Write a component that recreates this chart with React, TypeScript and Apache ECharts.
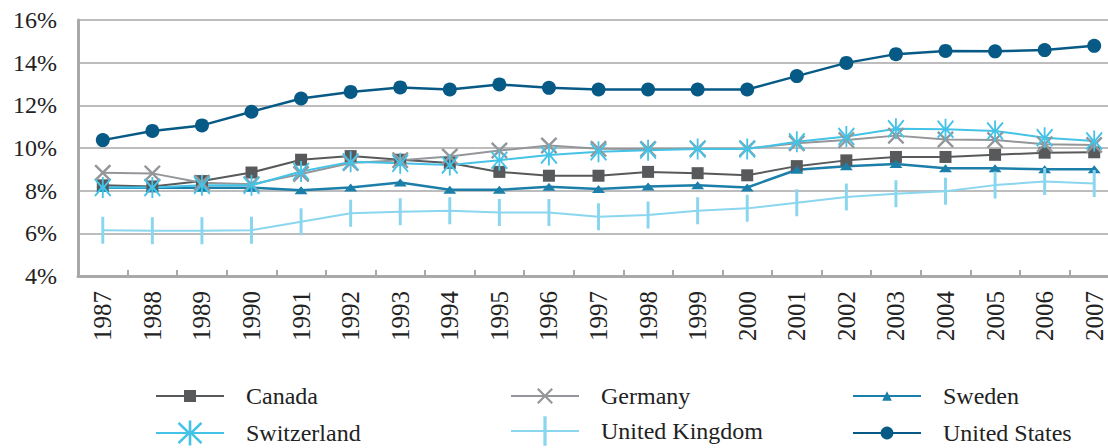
import React, { useEffect, useRef } from "react";
import * as echarts from "echarts";

const years = ["1987","1988","1989","1990","1991","1992","1993","1994","1995","1996","1997","1998","1999","2000","2001","2002","2003","2004","2005","2006","2007"];

const canada = [8.25, 8.2, 8.45, 8.85, 9.45, 9.62, 9.45, 9.3, 8.88, 8.7, 8.7, 8.88, 8.82, 8.72, 9.15, 9.42, 9.58, 9.58, 9.68, 9.78, 9.8];
const germany = [8.84, 8.81, 8.37, 8.3, 8.78, 9.3, 9.43, 9.6, 9.88, 10.12, 9.96, 9.95, 9.97, 9.98, 10.22, 10.37, 10.58, 10.4, 10.37, 10.18, 10.14];
const sweden = [8.14, 8.14, 8.14, 8.14, 8.02, 8.15, 8.38, 8.04, 8.04, 8.18, 8.08, 8.2, 8.25, 8.15, 8.98, 9.15, 9.25, 9.05, 9.05, 9.0, 9.0];
const switzerland = [8.15, 8.15, 8.25, 8.25, 8.9, 9.35, 9.28, 9.2, 9.43, 9.67, 9.82, 9.9, 9.95, 9.95, 10.29, 10.54, 10.9, 10.88, 10.8, 10.48, 10.33];
const unitedKingdom = [6.15, 6.12, 6.12, 6.15, 6.54, 6.94, 7.01, 7.06, 6.98, 6.98, 6.78, 6.86, 7.06, 7.17, 7.43, 7.7, 7.85, 7.97, 8.26, 8.43, 8.34];
const unitedStates = [10.37, 10.8, 11.06, 11.7, 12.32, 12.63, 12.84, 12.74, 12.98, 12.82, 12.74, 12.74, 12.74, 12.74, 13.37, 13.99, 14.4, 14.55, 14.53, 14.59, 14.79];

const yTicks = { min: 4, max: 16, interval: 2 };

const X_PATH = "path://M0,1 L1,0 L5,4 L9,0 L10,1 L6,5 L10,9 L9,10 L5,6 L1,10 L0,9 L4,5 Z";
const AST_PATH = "path://M4.5,0 L5.5,0 L5.5,4.2 L9,0.6 L9.7,1.3 L6.1,5 L9.7,8.7 L9,9.4 L5.5,5.8 L5.5,10 L4.5,10 L4.5,5.8 L1,9.4 L0.3,8.7 L3.9,5 L0.3,1.3 L1,0.6 L4.5,4.2 Z";
// narrow vertical bar centred in a 10x10 box (tiny specks at the sides keep the box square)
const BAR_PATH = "path://M4.45,0 L5.55,0 L5.55,10 L4.45,10 Z M0,5 L0.01,5 L0.01,5.01 Z M10,5 L9.99,5 L9.99,5.01 Z";

const FONT = "'Liberation Serif', 'Times New Roman', serif";

type SeriesDef = {
  name: string;
  data: number[];
  color: string;
  symbol: string;
  symbolSize: number | number[];
  width: number;
  legendLeft: number;
  legendTop: number;
  legendItemHeight: number;
};

const seriesDefs: SeriesDef[] = [
  { name: "Canada", data: canada, color: "#58595b", symbol: "rect", symbolSize: 12, width: 2, legendLeft: 155, legendTop: 376, legendItemHeight: 15 },
  { name: "Germany", data: germany, color: "#949699", symbol: X_PATH, symbolSize: 17, width: 2, legendLeft: 510, legendTop: 376, legendItemHeight: 20 },
  { name: "Sweden", data: sweden, color: "#1b7fa9", symbol: "triangle", symbolSize: [13, 8], width: 2.5, legendLeft: 852, legendTop: 376, legendItemHeight: 12 },
  { name: "Switzerland", data: switzerland, color: "#45c3e7", symbol: AST_PATH, symbolSize: [17, 21], width: 2, legendLeft: 155, legendTop: 413, legendItemHeight: 31 },
  { name: "United Kingdom", data: unitedKingdom, color: "#8ad6ef", symbol: BAR_PATH, symbolSize: 27, width: 2, legendLeft: 510, legendTop: 411, legendItemHeight: 37 },
  { name: "United States", data: unitedStates, color: "#075a86", symbol: "circle", symbolSize: 14, width: 2.5, legendLeft: 852, legendTop: 413, legendItemHeight: 16 },
];

export default function App() {
  const ref = useRef<HTMLDivElement>(null);

  useEffect(() => {
    if (!ref.current) return;
    const chart = echarts.init(ref.current, undefined, { renderer: "svg" });

    const option: any = {
      animation: false,
      backgroundColor: "#ffffff",
      grid: { left: 78, top: 20, right: 6, bottom: 172, containLabel: false, outerBoundsMode: "none" },
      legend: seriesDefs.map((s) => ({
        data: [s.name],
        left: s.legendLeft,
        top: s.legendTop,
        padding: 0,
        itemWidth: 68,
        itemHeight: s.legendItemHeight,
        selectedMode: false,
        textStyle: {
          fontFamily: FONT,
          fontSize: 24,
          color: "#222222",
          lineHeight: 26,
          padding: [14, 0, 0, 17],
        },
      })),
      xAxis: {
        type: "category",
        data: years,
        boundaryGap: true,
        axisLine: { show: true, lineStyle: { color: "#a9a9a9", width: 3 } },
        axisTick: { show: true, inside: true, length: 6, alignWithLabel: false, lineStyle: { color: "#a9a9a9", width: 2 } },
        axisLabel: {
          rotate: 90,
          margin: 15,
          interval: 0,
          fontFamily: FONT,
          fontSize: 25,
          color: "#222222",
        },
        splitLine: { show: false },
      },
      yAxis: {
        type: "value",
        min: yTicks.min,
        max: yTicks.max,
        interval: yTicks.interval,
        axisLine: { show: true, lineStyle: { color: "#a9a9a9", width: 3 } },
        axisTick: { show: false },
        axisLabel: {
          formatter: "{value}%",
          margin: 21,
          fontFamily: FONT,
          fontSize: 24,
          color: "#222222",
        },
        splitLine: { show: true, lineStyle: { color: "#bdbdbd", width: 2 } },
      },
      series: seriesDefs.map((s) => ({
        name: s.name,
        type: "line",
        data: s.data,
        symbol: s.symbol,
        symbolSize: s.symbolSize,
        showAllSymbol: true,
        lineStyle: { color: s.color, width: s.width },
        itemStyle: { color: s.color, borderWidth: 0 },
        emphasis: { disabled: true },
      })),
    };

    chart.setOption(option);
    return () => chart.dispose();
  }, []);

  return (
    <div style={{ position: "fixed", left: 0, top: 0, width: 1108, height: 448, overflow: "hidden", background: "#fff" }}>
      <div ref={ref} style={{ width: 1125, height: 448 }} />
    </div>
  );
}
